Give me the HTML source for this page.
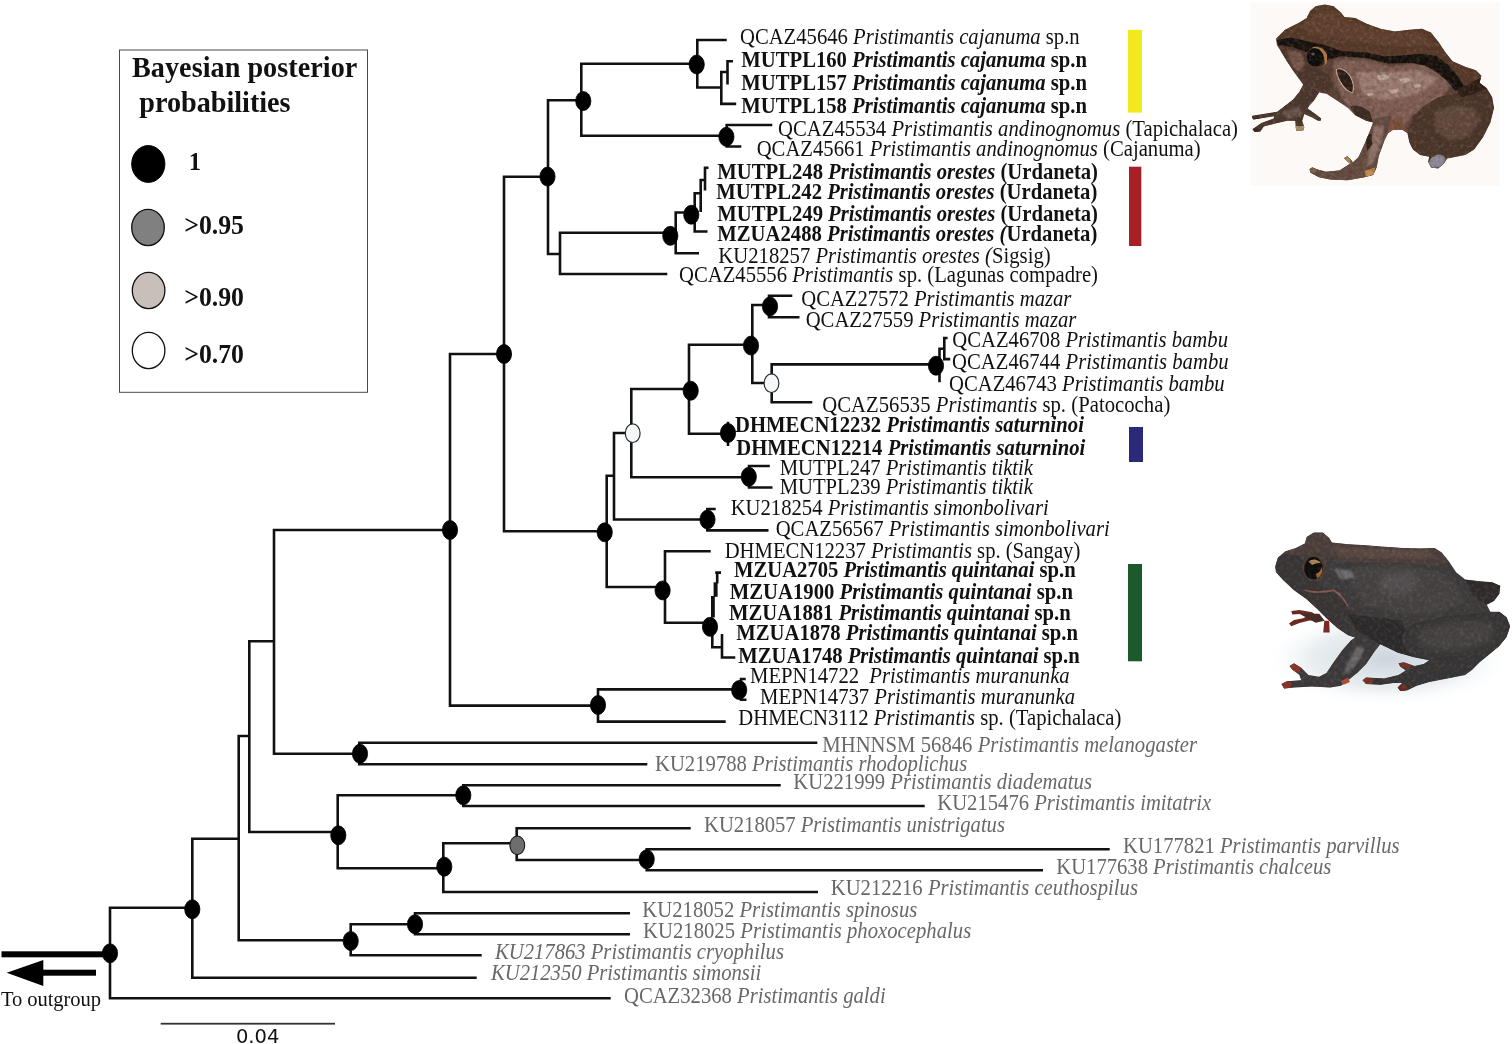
<!DOCTYPE html>
<html lang="en"><head><meta charset="utf-8"><title>Pristimantis phylogeny</title>
<style>
html,body{margin:0;padding:0;background:#fff;}
body{width:1512px;height:1044px;overflow:hidden;}
svg{display:block;}
.t{font-family:"Liberation Serif",serif;font-size:20.7px;fill:#111;}
.b{font-weight:bold;}
.g{fill:#686868;}
.i{font-style:italic;}
.ln{stroke:#111;stroke-width:2.6;fill:none;stroke-linecap:butt;}
.nd{stroke:#000;stroke-width:0.8;}
</style></head><body>
<svg width="1512" height="1044" viewBox="0 0 1512 1044">
<rect width="1512" height="1044" fill="#fff"/>
<defs><filter id="gray" x="0" y="0" width="1512" height="1044" filterUnits="userSpaceOnUse" color-interpolation-filters="sRGB"><feColorMatrix type="saturate" values="0"/></filter></defs>

<defs>
<filter id="soft" x="-5%" y="-5%" width="110%" height="110%"><feGaussianBlur stdDeviation="3"/></filter>
<filter id="soft2" x="-10%" y="-10%" width="120%" height="120%"><feGaussianBlur stdDeviation="7"/></filter>
<filter id="soft3" x="-30%" y="-30%" width="160%" height="160%"><feGaussianBlur stdDeviation="18"/></filter>
<filter id="tex1" x="0" y="0" width="100%" height="100%">
<feTurbulence type="fractalNoise" baseFrequency="0.05" numOctaves="3" seed="7" result="n"/>
<feColorMatrix in="n" type="matrix" values="0 0 0 0 1  0 0 0 0 0.9  0 0 0 0 0.85  1.6 0 0 0 -0.75" result="m"/>
<feComposite in="m" in2="SourceGraphic" operator="in"/>
</filter>
<filter id="tex2" x="0" y="0" width="100%" height="100%">
<feTurbulence type="fractalNoise" baseFrequency="0.04" numOctaves="3" seed="3" result="n"/>
<feColorMatrix in="n" type="matrix" values="0 0 0 0 0.05  0 0 0 0 0.03  0 0 0 0 0.02  1.8 0 0 0 -0.8" result="m"/>
<feComposite in="m" in2="SourceGraphic" operator="in"/>
</filter>
<clipPath id="f1clip"><path id="f1body" d="M200 215 L250 165 L330 125 L370 100 L390 60 L420 35 L470 25 L520 35 L560 70 L580 95 L640 100 L700 130 L780 160 L860 175 L940 165 L1010 160 L1060 180 L1100 230 L1140 290 L1180 340 L1250 370 L1310 390 L1340 420 L1330 460 L1370 490 L1400 540 L1410 600 L1390 680 L1350 760 L1300 830 L1250 860 L1200 870 L1150 880 L1130 910 L1100 935 L1060 930 L1045 900 L1050 870 L1000 860 L960 830 L940 790 L930 740 L900 720 L850 720 L822 740 L803 777 L771 865 L759 928 L740 972 L690 984 L596 1000 L502 997 L439 984 L392 959 L386 940 L401 928 L426 940 L476 953 L552 946 L611 909 L577 878 L596 868 L614 884 L627 902 L658 871 L690 802 L721 727 L740 680 L700 670 L640 640 L600 600 L540 560 L480 520 L439 514 L410 560 L383 589 L376 602 L426 639 L451 658 L448 671 L433 671 L401 652 L357 633 L345 671 L357 708 L351 724 L314 727 L310 714 L307 671 L263 671 L207 683 L132 702 L113 730 L82 733 L69 718 L119 683 L188 658 L188 646 L75 664 L66 652 L69 642 L207 620 L295 552 L330 510 L351 470 L300 400 L260 340 L230 290 L205 250 Z"/></clipPath>
</defs>
<g id="frog1" transform="translate(1240 0) scale(0.18013)">
<rect x="58" y="14" width="1383" height="1016" fill="#fdf9f7"/>
<g filter="url(#soft)">
<use href="#f1body" fill="#5a4034"/>
<g clip-path="url(#f1clip)">
<!-- flank -->
<path d="M520 330 L700 330 L820 370 L1000 350 L1120 400 L1180 470 L1100 560 L960 640 L900 720 L800 740 L700 680 L600 600 L520 450 Z" fill="#7d5b52" filter="url(#soft2)"/>
<path d="M640 400 L800 400 L1000 390 L1100 440 L1000 520 L800 560 L680 520 Z" fill="#9a7a70" filter="url(#soft2)"/>
<path d="M760 420 l40 -8 l30 12 l-20 18 l-40 4 Z M880 440 l50 -10 l20 16 l-40 20 Z M820 500 l60 -6 l10 14 l-50 12 Z M960 470 l40 -4 l8 14 l-36 8 Z M700 520 l36 -6 l6 12 l-30 8 Z" fill="#d8c6c0" opacity="0.55" filter="url(#soft)"/>
<!-- dorsum -->
<path d="M200 215 L250 165 L330 125 L370 100 L390 60 L420 35 L470 25 L520 35 L560 70 L580 95 L640 100 L700 130 L780 160 L860 175 L940 165 L1010 160 L1060 180 L1100 230 L1140 290 L1180 340 L1250 370 L1310 390 L1340 420 L1330 460 L1250 480 L1200 420 L1150 360 L1080 310 L1000 300 L900 310 L800 310 L700 290 L560 280 L470 250 L380 230 L280 210 Z" fill="#553828"/>
<path d="M330 150 L420 70 L520 60 L600 120 L800 180 L1000 180 L1080 240 L1000 260 L800 250 L600 220 L400 190 Z" fill="#60412e" filter="url(#soft2)"/>
<!-- dark stripe -->
<path d="M203 222 L280 208 L380 230 L470 250 L560 282 L700 292 L800 312 L900 308 L1000 298 L1085 308 L1155 358 L1205 418 L1245 480 L1195 505 L1150 450 L1090 400 L1030 365 L950 350 L820 352 L700 322 L560 312 L480 335 L400 298 L300 268 L215 256 Z" fill="#17100d"/>
<!-- head side -->
<path d="M215 250 L300 262 L380 300 L440 380 L500 420 L520 470 L480 520 L440 500 L350 460 L300 400 L260 340 L230 290 Z" fill="#4c352b"/>
<path d="M260 280 L340 290 L360 360 L330 400 L290 370 Z" fill="#755448" filter="url(#soft2)"/>
<!-- tympanum mark -->
<path d="M535 385 Q570 370 610 420 Q640 470 625 515 Q590 510 560 460 Q535 420 535 385 Z" fill="#2a1a14" stroke="#c9ab90" stroke-width="6"/>
<!-- lower belly dark patch -->
<path d="M610 590 Q660 575 720 620 L740 680 L700 670 L640 640 Z" fill="#3a2a22"/>
<path d="M720 680 L900 650 L930 740 L900 720 L850 720 L810 740 L800 700 Z" fill="#7a4f3c" filter="url(#soft2)"/>
<!-- hind leg -->
<path d="M1100 540 L1200 520 L1330 460 L1370 490 L1400 540 L1410 600 L1390 680 L1350 760 L1300 830 L1250 860 L1200 870 L1150 880 L1130 910 L1100 935 L1060 930 L1045 900 L1050 870 L1000 860 L960 830 L940 790 L930 740 L960 650 L1020 590 Z" fill="#4a3429"/>
<path d="M1080 620 L1200 580 L1300 600 L1330 680 L1260 760 L1160 780 L1080 720 Z" fill="#60473b" filter="url(#soft2)"/>
<path d="M1200 500 L1320 440 L1345 430 L1330 460 L1370 490 L1300 520 L1230 540 Z" fill="#2c1d16"/>
<!-- toe pad -->
<ellipse cx="1095" cy="895" rx="48" ry="34" transform="rotate(-25 1095 895)" fill="#8b8794"/>
<!-- front right arm -->
<path d="M740 660 L840 640 L822 740 L803 777 L771 865 L759 928 L740 972 L690 990 L596 1005 L502 1000 L439 990 L380 960 L380 930 L426 935 L476 950 L552 940 L600 900 L570 880 L596 860 L627 895 L658 871 L690 802 L721 727 Z" fill="#634a3f"/>
<path d="M745 700 L800 700 L780 800 L740 900 L700 930 L720 830 Z" fill="#8f7166" filter="url(#soft2)"/><path d="M700 760 L730 740 L735 800 L705 840 Z" fill="#2e201a" filter="url(#soft)"/>
<path d="M577 878 L596 866 L616 884 L612 910 L590 905 Z" fill="#a8895a"/>
<path d="M690 950 L750 930 L745 965 L700 985 Z" fill="#c08a50"/>
<path d="M386 940 L401 926 L430 940 L420 965 L392 960 Z" fill="#7a5a48"/>
<!-- front left arm -->
<path d="M439 514 L410 560 L383 589 L376 602 L426 639 L451 658 L448 671 L433 671 L401 652 L357 633 L345 671 L357 708 L351 724 L314 727 L310 714 L307 671 L263 671 L207 683 L132 702 L113 730 L82 733 L69 718 L119 683 L188 658 L188 646 L75 664 L66 652 L69 642 L207 620 L295 552 L330 510 L351 460 Z" fill="#4a362d"/>
<path d="M230 620 L330 590 L350 640 L260 660 Z" fill="#69524a" filter="url(#soft2)"/>
<path d="M308 700 L358 700 L352 726 L312 728 Z" fill="#a88f62"/>
<path d="M66 645 L110 640 L110 660 L70 665 Z" fill="#3a2a22"/>
<path d="M69 718 L100 700 L115 728 L82 734 Z" fill="#3a2a22"/>
<!-- eye -->
<ellipse cx="428" cy="313" rx="56" ry="58" fill="#3a2618"/><path d="M400 262 Q450 250 482 300 Q490 340 470 365 Q475 320 450 290 Q430 270 400 262 Z" fill="#b07a3c"/>
<ellipse cx="418" cy="318" rx="46" ry="50" fill="#0a0808"/>
<ellipse cx="405" cy="300" rx="10" ry="8" fill="#555"/>
</g>
<use href="#f1body" fill="#fff" filter="url(#tex1)" opacity="0.22"/>
<use href="#f1body" fill="#000" filter="url(#tex2)" opacity="0.45"/>
</g>
</g>

<defs>
<clipPath id="f2clip"><path id="f2body" d="M195 260 L210 210 L250 175 L310 155 L360 130 L370 95 L410 70 L460 70 L495 100 L510 125 L600 135 L700 140 L800 148 L900 155 L1000 158 L1080 155 L1120 180 L1160 230 L1200 290 L1250 330 L1330 340 L1400 345 L1445 365 L1440 410 L1410 450 L1370 470 L1390 510 L1440 510 L1480 540 L1500 590 L1480 650 L1440 700 L1380 750 L1330 790 L1290 830 L1250 860 L1150 880 L1050 900 L980 920 L930 945 L890 950 L875 930 L900 905 L850 905 L780 915 L700 910 L680 890 L700 875 L800 880 L880 860 L920 835 L890 815 L880 795 L910 790 L970 810 L1020 800 L1050 778 L966 762 L877 737 L779 690 L740 740 L700 800 L650 850 L600 890 L560 920 L500 930 L400 925 L300 930 L245 935 L230 910 L260 895 L340 890 L330 860 L290 830 L275 810 L300 795 L340 820 L380 860 L440 870 L480 850 L520 790 L570 720 L615 670 L640 652 L600 640 L540 600 L480 545 L430 495 L370 440 L300 390 L240 335 L200 290 Z"/></clipPath>
<radialGradient id="f2sh" cx="0.5" cy="0.5" r="0.5"><stop offset="0" stop-color="#c9d3da" stop-opacity="0.95"/><stop offset="0.6" stop-color="#dfe6ea" stop-opacity="0.7"/><stop offset="1" stop-color="#ffffff" stop-opacity="0"/></radialGradient>
</defs>
<g id="frog2" transform="translate(1240 520) scale(0.18013)">
<ellipse cx="820" cy="770" rx="700" ry="270" fill="url(#f2sh)"/>
<g filter="url(#soft)">
<!-- far toes (red) -->
<path d="M285 505 L330 500 L400 512 L440 540 L420 555 L380 560 L330 572 L285 590 L272 575 L300 555 L350 545 L380 530 L330 522 L290 525 Z" fill="#6a2a24"/><path d="M330 520 L440 520 L470 560 L420 570 Z" fill="#4a2a28"/>
<path d="M468 560 L495 560 L498 625 L462 625 Z" fill="#7a2c26"/>
<use href="#f2body" fill="#3c3a3b"/>
<g clip-path="url(#f2clip)">
<!-- dorsum brown -->
<path d="M250 175 L310 155 L360 130 L370 95 L410 70 L460 70 L495 100 L510 125 L600 135 L800 148 L1000 158 L1080 155 L1120 180 L1160 230 L1100 250 L900 240 L700 235 L560 230 L480 200 L380 190 L300 215 L240 220 Z" fill="#4c3e3b"/>
<path d="M520 150 L800 160 L1050 170 L1090 210 L900 215 L700 210 L540 200 Z" fill="#5a4843" filter="url(#soft2)"/>
<!-- head -->
<path d="M195 260 L210 210 L250 190 L340 200 L380 300 L440 360 L520 400 L600 480 L640 652 L600 640 L540 600 L480 545 L430 495 L370 440 L300 390 L240 335 L200 290 Z" fill="#383435"/>
<!-- flank highlights -->
<path d="M640 260 L900 250 L1100 280 L1200 360 L1250 460 L1100 520 L900 520 L700 480 L620 380 Z" fill="#454243" filter="url(#soft2)"/>
<path d="M780 300 L950 290 L1000 360 L900 420 L780 400 Z" fill="#525051" filter="url(#soft3)"/>
<path d="M520 270 L620 280 L640 320 L560 330 Z" fill="#6a6a6d" filter="url(#soft2)"/>
<!-- belly darker -->
<path d="M600 520 L900 560 L966 762 L877 737 L779 690 L660 640 Z" fill="#2c2a2c"/>
<!-- hind leg -->
<path d="M900 640 L960 580 L1100 540 L1300 520 L1440 510 L1480 540 L1500 590 L1480 650 L1440 700 L1380 750 L1330 790 L1290 830 L1250 860 L1150 880 L1050 900 L980 920 L930 945 L890 950 L875 930 L900 905 L850 905 L780 915 L700 910 L680 890 L700 875 L800 880 L880 860 L920 835 L970 810 L1020 800 L1050 778 L966 762 L904 702 Z" fill="#363435"/>
<path d="M980 620 L1150 570 L1350 560 L1420 600 L1380 680 L1250 720 L1100 730 L1000 700 Z" fill="#444243" filter="url(#soft3)"/>
<!-- far hind leg -->
<path d="M1250 330 L1330 340 L1400 345 L1445 365 L1440 410 L1410 450 L1370 470 L1300 430 Z" fill="#2e2b2c"/>
<!-- front arm -->
<path d="M600 600 L660 620 L760 680 L740 740 L700 800 L650 850 L600 890 L560 920 L500 930 L400 925 L300 930 L245 935 L230 910 L260 895 L340 890 L440 870 L480 850 L520 790 L570 720 L620 660 Z" fill="#3b393a"/>
<path d="M650 700 L690 710 L670 770 L610 840 L570 860 L600 790 Z" fill="#67676b" filter="url(#soft2)"/>
<!-- red toe tips -->
<path d="M275 810 L300 795 L340 820 L330 850 L290 835 Z" fill="#8a3326"/>
<path d="M230 910 L260 895 L290 905 L280 935 L245 937 Z" fill="#8a3326"/>
<path d="M380 835 L430 835 L440 860 L390 862 Z" fill="#a03a2a"/>
<path d="M880 795 L910 790 L950 805 L940 825 L895 818 Z" fill="#7a3024"/>
<path d="M680 890 L700 875 L740 880 L730 910 L700 912 Z" fill="#7a3024"/>
<path d="M875 930 L900 910 L930 920 L925 945 L890 952 Z" fill="#6a2a20"/>
<!-- mouth line -->
<path d="M360 390 Q430 410 520 390 Q570 420 600 480" fill="none" stroke="#8a5a52" stroke-width="10"/>
<!-- eye -->
<ellipse cx="415" cy="262" rx="68" ry="78" fill="#4a3b35"/>
<ellipse cx="408" cy="268" rx="52" ry="62" fill="#0c0a0a"/>
<path d="M380 230 Q420 205 450 240 Q430 235 400 250 Z" fill="#b08a5a"/>
<path d="M420 300 Q450 290 455 260 Q465 300 430 325 Z" fill="#a06a3a"/>
</g>
<path d="M560 895 L600 875 L610 900 L575 915 Z" fill="#b04a36"/>
<use href="#f2body" fill="#fff" filter="url(#tex1)" opacity="0.16"/>
<use href="#f2body" fill="#000" filter="url(#tex2)" opacity="0.4"/>
</g>
</g>

<g id="legend">
<rect x="119.5" y="50" width="248" height="342.3" fill="#fff" stroke="#4a4a4a" stroke-width="1"/>
<g filter="url(#gray)">
<text class="t b" transform="translate(132 77.2) scale(1 1.065)" style="font-size:28.2px" textLength="225.3" lengthAdjust="spacing">Bayesian posterior</text>
<text class="t b" transform="translate(139.3 111.6) scale(1 1.065)" style="font-size:28.2px" textLength="151.3" lengthAdjust="spacing">probabilities</text>
</g>
<ellipse cx="148.3" cy="164" rx="16.6" ry="18.4" fill="#000" stroke="#000" stroke-width="1"/>
<ellipse cx="148" cy="227.5" rx="16.3" ry="18.1" fill="#808080" stroke="#111" stroke-width="1.3"/>
<ellipse cx="148.6" cy="290.5" rx="16.3" ry="18.1" fill="#c9bfba" stroke="#111" stroke-width="1.3"/>
<ellipse cx="148.6" cy="350.5" rx="16.3" ry="18.1" fill="#fff" stroke="#111" stroke-width="1.3"/>
<g filter="url(#gray)">
<text class="t b" transform="translate(188.8 170) scale(1 1.02)" style="font-size:24.6px">1</text>
<text class="t b" transform="translate(184.3 233.9) scale(1 1.02)" style="font-size:25.8px" textLength="59.7" lengthAdjust="spacing">&gt;0.95</text>
<text class="t b" transform="translate(184.3 306.0) scale(1 1.02)" style="font-size:25.8px" textLength="59.7" lengthAdjust="spacing">&gt;0.90</text>
<text class="t b" transform="translate(184.3 362.5) scale(1 1.02)" style="font-size:25.8px" textLength="59.7" lengthAdjust="spacing">&gt;0.70</text>
</g>
</g>
<g id="bars">
<rect x="1128.0" y="29.8" width="14.0" height="82.8" fill="#f3e81d"/>
<rect x="1129.0" y="166.7" width="12.3" height="79.3" fill="#a81f26"/>
<rect x="1129.0" y="427.0" width="14.0" height="35.0" fill="#2b2a7a"/>
<rect x="1128.0" y="564.0" width="14.0" height="97.3" fill="#1c5a2b"/>
</g>
<path class="ln" d="M696.0 40.0H726.7M696.0 87.5H721.3M720.0 103.9H736.2M720.0 72.0H727.5M726.2 61.3H733.0M580.0 63.7H697.3M580.0 135.7H726.0M725.4 125.0H772.3M725.4 146.5H741.3M546.7 100.2H583.3M546.7 254.0H560.0M558.7 274.0H667.3M558.7 232.8H675.7M674.4 253.3H699.0M674.4 212.5H694.7M693.4 231.5H707.5M693.4 193.3H700.7M699.4 180.0H705.0M703.7 167.7H708.5M502.7 176.7H548.0M448.7 354.0H504.0M272.7 530.0H450.0M248.0 641.3H274.0M502.7 531.3H606.7M605.4 475.7H614.0M612.7 519.5H707.3M706.0 509.0H715.7M706.0 530.4H768.5M612.7 433.0H631.3M630.0 389.0H689.0M630.0 477.3H749.0M747.7 466.0H769.8M747.7 487.5H772.5M687.7 433.7H728.0M687.7 344.7H752.3M751.0 305.0H770.0M767.7 295.7H792.3M767.7 317.2H799.5M751.0 383.0H771.7M770.4 364.4H936.0M770.4 402.3H812.3M943.0 359.1H950.2M943.0 338.0H947.6M938.2 348.7H944.3M605.4 587.0H665.0M663.7 551.3H710.7M663.7 622.7H712.0M715.2 572.6H721.0M711.0 647.2H722.0M720.7 657.5H735.3M596.7 689.4H740.0M740.0 679.0H745.7M740.0 699.8H746.5M448.7 705.6H598.0M596.7 721.6H725.7M272.7 753.7H360.0M358.0 742.7H817.3M358.0 764.3H647.3M248.0 832.0H338.3M336.4 795.3H463.3M462.0 785.3H780.7M462.0 806.0H924.7M336.4 868.3H444.0M442.0 843.3H516.7M442.0 892.0H818.0M515.4 828.3H690.7M515.4 860.0H646.7M645.4 849.3H1109.7M645.4 870.3H1043.0M237.4 736.0H249.3M191.0 838.7H238.7M237.4 940.3H350.7M349.4 924.3H415.0M413.7 913.3H630.0M413.7 934.3H630.0M349.4 955.3H481.7M108.7 907.7H192.3M191.0 977.7H476.7M108.7 998.3H610.7M697.3 38.7V88.8M721.3 70.7V105.2M727.5 60.0V84.6M581.3 62.4V137.0M726.7 123.7V147.8M548.0 98.9V255.3M560.0 231.5V275.3M675.7 211.2V254.6M694.7 192.0V232.8M700.7 178.7V212.0M705.0 166.4V190.6M504.0 175.4V532.6M450.0 352.7V706.9M274.0 528.7V755.0M249.3 640.0V833.3M707.3 507.7V531.7M606.7 474.4V588.3M614.0 431.7V520.8M631.3 387.7V478.6M749.0 464.7V488.8M689.0 343.4V435.0M728.0 421.7V446.0M752.3 303.7V384.3M769.0 294.4V318.5M771.7 363.1V403.6M939.5 347.4V382.3M944.3 336.7V360.4M665.0 550.0V624.0M717.2 571.3V583.6M712.3 624.7V648.5M722.0 634.0V658.8M598.0 688.1V722.9M741.0 677.7V701.1M359.3 741.4V765.6M337.7 794.0V869.6M463.3 784.0V807.3M443.3 842.0V893.3M516.7 827.0V861.3M646.7 848.0V871.6M238.7 734.7V941.6M350.7 923.0V956.6M415.0 912.0V935.6M192.3 837.4V979.0M110.0 906.4V999.6"/>
<rect x="711.0" y="596.0" width="3.8" height="21.5" fill="#111"/>
<rect x="713.6" y="582.3" width="4.0" height="14.5" fill="#111"/>
<g id="outgroup" filter="url(#gray)">
<rect x="1.5" y="951.3" width="108.5" height="6" fill="#000"/>
<rect x="40" y="969.7" width="56" height="6" fill="#000"/>
<polygon points="6.7,972.7 43.3,960 43.3,986" fill="#000"/>
<text class="t" transform="translate(1 1006.2) scale(1 1.06)" style="font-size:20.6px" textLength="100" lengthAdjust="spacing">To outgroup</text>
<rect x="160.7" y="1022.8" width="174.3" height="1.8" fill="#333"/>
<text x="236" y="1042.7" style="font-family:'DejaVu Sans','Liberation Sans',sans-serif;font-size:19.5px;fill:#111" textLength="43.3" lengthAdjust="spacing">0.04</text>
</g>

<g id="nodes">
<ellipse class="nd" cx="696.7" cy="64.5" rx="7.6" ry="9.5" fill="#000"/>
<ellipse class="nd" cx="583.3" cy="101.0" rx="7.6" ry="9.5" fill="#000"/>
<ellipse class="nd" cx="726.4" cy="136.8" rx="7.6" ry="9.5" fill="#000"/>
<ellipse class="nd" cx="547.5" cy="176.6" rx="7.6" ry="9.5" fill="#000"/>
<ellipse class="nd" cx="670.3" cy="235.8" rx="7.6" ry="9.5" fill="#000"/>
<ellipse class="nd" cx="691.3" cy="214.7" rx="7.6" ry="9.5" fill="#000"/>
<ellipse class="nd" cx="504.0" cy="354.0" rx="7.6" ry="9.5" fill="#000"/>
<ellipse class="nd" cx="450.0" cy="530.0" rx="7.6" ry="9.5" fill="#000"/>
<ellipse class="nd" cx="604.7" cy="532.3" rx="7.6" ry="9.5" fill="#000"/>
<ellipse class="nd" cx="707.5" cy="519.6" rx="7.6" ry="9.5" fill="#000"/>
<ellipse cx="632.7" cy="433.2" rx="7.4" ry="9.3" fill="#f6f7f9" stroke="#2a2a2a" stroke-width="1.2"/>
<ellipse class="nd" cx="690.7" cy="390.7" rx="7.6" ry="9.5" fill="#000"/>
<ellipse class="nd" cx="748.8" cy="476.8" rx="7.6" ry="9.5" fill="#000"/>
<ellipse class="nd" cx="728.0" cy="433.0" rx="7.6" ry="9.5" fill="#000"/>
<ellipse class="nd" cx="751.0" cy="345.6" rx="7.6" ry="9.5" fill="#000"/>
<ellipse class="nd" cx="770.0" cy="306.4" rx="7.6" ry="9.5" fill="#000"/>
<ellipse cx="771.5" cy="383.2" rx="7.4" ry="9.3" fill="#f6f7f9" stroke="#2a2a2a" stroke-width="1.2"/>
<ellipse class="nd" cx="936.0" cy="365.7" rx="7.6" ry="9.5" fill="#000"/>
<ellipse class="nd" cx="662.6" cy="590.4" rx="7.6" ry="9.5" fill="#000"/>
<ellipse class="nd" cx="710.0" cy="626.8" rx="7.6" ry="9.5" fill="#000"/>
<ellipse class="nd" cx="739.2" cy="690.0" rx="7.6" ry="9.5" fill="#000"/>
<ellipse class="nd" cx="598.0" cy="705.0" rx="7.6" ry="9.5" fill="#000"/>
<ellipse class="nd" cx="360.0" cy="753.7" rx="7.6" ry="9.5" fill="#000"/>
<ellipse class="nd" cx="338.3" cy="835.3" rx="7.6" ry="9.5" fill="#000"/>
<ellipse class="nd" cx="463.3" cy="795.3" rx="7.6" ry="9.5" fill="#000"/>
<ellipse class="nd" cx="444.3" cy="866.7" rx="7.6" ry="9.5" fill="#000"/>
<ellipse cx="517.3" cy="845.3" rx="7.4" ry="9.3" fill="#6e6e6e" stroke="#1a1a1a" stroke-width="1.1"/>
<ellipse class="nd" cx="646.7" cy="859.3" rx="7.6" ry="9.5" fill="#000"/>
<ellipse class="nd" cx="350.7" cy="941.0" rx="7.6" ry="9.5" fill="#000"/>
<ellipse class="nd" cx="415.0" cy="924.3" rx="7.6" ry="9.5" fill="#000"/>
<ellipse class="nd" cx="192.3" cy="909.3" rx="7.6" ry="9.5" fill="#000"/>
<ellipse class="nd" cx="110.0" cy="953.3" rx="7.6" ry="9.5" fill="#000"/>
</g>
<g id="labels" filter="url(#gray)">
<text class="t" transform="translate(740.0 44.3) scale(1 1.075)" textLength="339.7" lengthAdjust="spacing">QCAZ45646 <tspan class="i">Pristimantis cajanuma</tspan> sp.n</text>
<text class="t b" transform="translate(741.3 67.4) scale(1 1.075)" textLength="345.7" lengthAdjust="spacing">MUTPL160 <tspan class="i">Pristimantis cajanuma</tspan> sp.n</text>
<text class="t b" transform="translate(741.3 90.0) scale(1 1.075)" textLength="345.7" lengthAdjust="spacing">MUTPL157 <tspan class="i">Pristimantis cajanuma</tspan> sp.n</text>
<text class="t b" transform="translate(741.3 113.2) scale(1 1.075)" textLength="345.7" lengthAdjust="spacing">MUTPL158 <tspan class="i">Pristimantis cajanuma</tspan> sp.n</text>
<text class="t" transform="translate(778.0 135.7) scale(1 1.075)" textLength="460.0" lengthAdjust="spacing">QCAZ45534 <tspan class="i">Pristimantis andinognomus</tspan> (Tapichalaca)</text>
<text class="t" transform="translate(756.7 156.1) scale(1 1.075)" textLength="444.0" lengthAdjust="spacing">QCAZ45661 <tspan class="i">Pristimantis andinognomus</tspan> (Cajanuma)</text>
<text class="t b" transform="translate(717.3 179.0) scale(1 1.075)" textLength="380.7" lengthAdjust="spacing">MUTPL248 <tspan class="i">Pristimantis orestes</tspan> (Urdaneta)</text>
<text class="t b" transform="translate(716.3 199.3) scale(1 1.075)" textLength="381.0" lengthAdjust="spacing">MUTPL242 <tspan class="i">Pristimantis orestes</tspan> (Urdaneta)</text>
<text class="t b" transform="translate(717.3 220.7) scale(1 1.075)" textLength="380.7" lengthAdjust="spacing">MUTPL249 <tspan class="i">Pristimantis orestes</tspan> (Urdaneta)</text>
<text class="t b" transform="translate(717.3 240.7) scale(1 1.075)" textLength="380.0" lengthAdjust="spacing">MZUA2488 <tspan class="i">Pristimantis orestes (</tspan>Urdaneta)</text>
<text class="t" transform="translate(718.3 263.3) scale(1 1.075)" textLength="332.4" lengthAdjust="spacing">KU218257 <tspan class="i">Pristimantis orestes (</tspan>Sigsig)</text>
<text class="t" transform="translate(679.0 281.7) scale(1 1.075)" textLength="419.0" lengthAdjust="spacing">QCAZ45556 <tspan class="i">Pristimantis</tspan> sp. (Lagunas compadre)</text>
<text class="t" transform="translate(801.3 305.5) scale(1 1.075)" textLength="270.0" lengthAdjust="spacing">QCAZ27572 <tspan class="i">Pristimantis mazar</tspan></text>
<text class="t" transform="translate(805.7 326.5) scale(1 1.075)" textLength="270.6" lengthAdjust="spacing">QCAZ27559 <tspan class="i">Pristimantis mazar</tspan></text>
<text class="t" transform="translate(952.3 347.1) scale(1 1.075)" textLength="275.7" lengthAdjust="spacing">QCAZ46708 <tspan class="i">Pristimantis bambu</tspan></text>
<text class="t" transform="translate(952.0 368.8) scale(1 1.075)" textLength="276.7" lengthAdjust="spacing">QCAZ46744 <tspan class="i">Pristimantis bambu</tspan></text>
<text class="t" transform="translate(949.0 391.3) scale(1 1.075)" textLength="275.7" lengthAdjust="spacing">QCAZ46743 <tspan class="i">Pristimantis bambu</tspan></text>
<text class="t" transform="translate(822.3 412.3) scale(1 1.075)" textLength="348.0" lengthAdjust="spacing">QCAZ56535 <tspan class="i">Pristimantis</tspan> sp. (Patococha)</text>
<text class="t b" transform="translate(735.0 432.3) scale(1 1.075)" textLength="349.0" lengthAdjust="spacing">DHMECN12232 <tspan class="i">Pristimantis saturninoi</tspan></text>
<text class="t b" transform="translate(736.3 454.7) scale(1 1.075)" textLength="349.0" lengthAdjust="spacing">DHMECN12214 <tspan class="i">Pristimantis saturninoi</tspan></text>
<text class="t" transform="translate(779.7 474.6) scale(1 1.075)" textLength="253.3" lengthAdjust="spacing">MUTPL247 <tspan class="i">Pristimantis tiktik</tspan></text>
<text class="t" transform="translate(779.7 494.3) scale(1 1.075)" textLength="253.3" lengthAdjust="spacing">MUTPL239 <tspan class="i">Pristimantis tiktik</tspan></text>
<text class="t" transform="translate(730.7 515.3) scale(1 1.075)" textLength="318.0" lengthAdjust="spacing">KU218254 <tspan class="i">Pristimantis simonbolivari</tspan></text>
<text class="t" transform="translate(775.7 536.3) scale(1 1.075)" textLength="334.0" lengthAdjust="spacing">QCAZ56567 <tspan class="i">Pristimantis simonbolivari</tspan></text>
<text class="t" transform="translate(724.7 557.6) scale(1 1.075)" textLength="355.6" lengthAdjust="spacing">DHMECN12237 <tspan class="i">Pristimantis</tspan> sp. (Sangay)</text>
<text class="t b" transform="translate(734.0 576.9) scale(1 1.075)" textLength="341.7" lengthAdjust="spacing">MZUA2705 <tspan class="i">Pristimantis quintanai</tspan> sp.n</text>
<text class="t b" transform="translate(729.7 598.6) scale(1 1.075)" textLength="343.3" lengthAdjust="spacing">MZUA1900 <tspan class="i">Pristimantis quintanai</tspan> sp.n</text>
<text class="t b" transform="translate(729.0 619.6) scale(1 1.075)" textLength="341.7" lengthAdjust="spacing">MZUA1881 <tspan class="i">Pristimantis quintanai</tspan> sp.n</text>
<text class="t b" transform="translate(736.3 640.3) scale(1 1.075)" textLength="341.7" lengthAdjust="spacing">MZUA1878 <tspan class="i">Pristimantis quintanai</tspan> sp.n</text>
<text class="t b" transform="translate(738.3 662.9) scale(1 1.075)" textLength="341.4" lengthAdjust="spacing">MZUA1748 <tspan class="i">Pristimantis quintanai</tspan> sp.n</text>
<text class="t" transform="translate(750.0 683.0) scale(1 1.075)" textLength="319.7" lengthAdjust="spacing">MEPN14722  <tspan class="i">Pristimantis muranunka</tspan></text>
<text class="t" transform="translate(760.0 703.8) scale(1 1.075)" textLength="315.0" lengthAdjust="spacing">MEPN14737 <tspan class="i">Pristimantis muranunka</tspan></text>
<text class="t" transform="translate(738.3 725.3) scale(1 1.075)" textLength="383.0" lengthAdjust="spacing">DHMECN3112 <tspan class="i">Pristimantis</tspan> sp. (Tapichalaca)</text>
<text class="t g" transform="translate(822.3 751.7) scale(1 1.075)" textLength="374.7" lengthAdjust="spacing">MHNNSM 56846 <tspan class="i">Pristimantis melanogaster</tspan></text>
<text class="t g" transform="translate(655.0 771.0) scale(1 1.075)" textLength="312.3" lengthAdjust="spacing">KU219788 <tspan class="i">Pristimantis rhodoplichus</tspan></text>
<text class="t g" transform="translate(793.3 789.3) scale(1 1.075)" textLength="298.7" lengthAdjust="spacing">KU221999 <tspan class="i">Pristimantis diadematus</tspan></text>
<text class="t g" transform="translate(937.3 810.0) scale(1 1.075)" textLength="274.0" lengthAdjust="spacing">KU215476 <tspan class="i">Pristimantis imitatrix</tspan></text>
<text class="t g" transform="translate(704.0 831.7) scale(1 1.075)" textLength="301.0" lengthAdjust="spacing">KU218057 <tspan class="i">Pristimantis unistrigatus</tspan></text>
<text class="t g" transform="translate(1123.0 852.7) scale(1 1.075)" textLength="276.7" lengthAdjust="spacing">KU177821 <tspan class="i">Pristimantis parvillus</tspan></text>
<text class="t g" transform="translate(1056.3 873.7) scale(1 1.075)" textLength="275.0" lengthAdjust="spacing">KU177638 <tspan class="i">Pristimantis chalceus</tspan></text>
<text class="t g" transform="translate(830.7 895.3) scale(1 1.075)" textLength="307.3" lengthAdjust="spacing">KU212216 <tspan class="i">Pristimantis ceuthospilus</tspan></text>
<text class="t g" transform="translate(642.3 916.7) scale(1 1.075)" textLength="275.0" lengthAdjust="spacing">KU218052 <tspan class="i">Pristimantis spinosus</tspan></text>
<text class="t g" transform="translate(643.0 937.7) scale(1 1.075)" textLength="328.3" lengthAdjust="spacing">KU218025 <tspan class="i">Pristimantis phoxocephalus</tspan></text>
<text class="t g i" transform="translate(495.0 959.3) scale(1 1.075)" textLength="289.0" lengthAdjust="spacing">KU217863 Pristimantis cryophilus</text>
<text class="t g i" transform="translate(491.0 980.3) scale(1 1.075)" textLength="270.3" lengthAdjust="spacing">KU212350 Pristimantis simonsii</text>
<text class="t g" transform="translate(624.0 1002.7) scale(1 1.075)" textLength="261.7" lengthAdjust="spacing">QCAZ32368 <tspan class="i">Pristimantis galdi</tspan></text>
</g>
</svg></body></html>
